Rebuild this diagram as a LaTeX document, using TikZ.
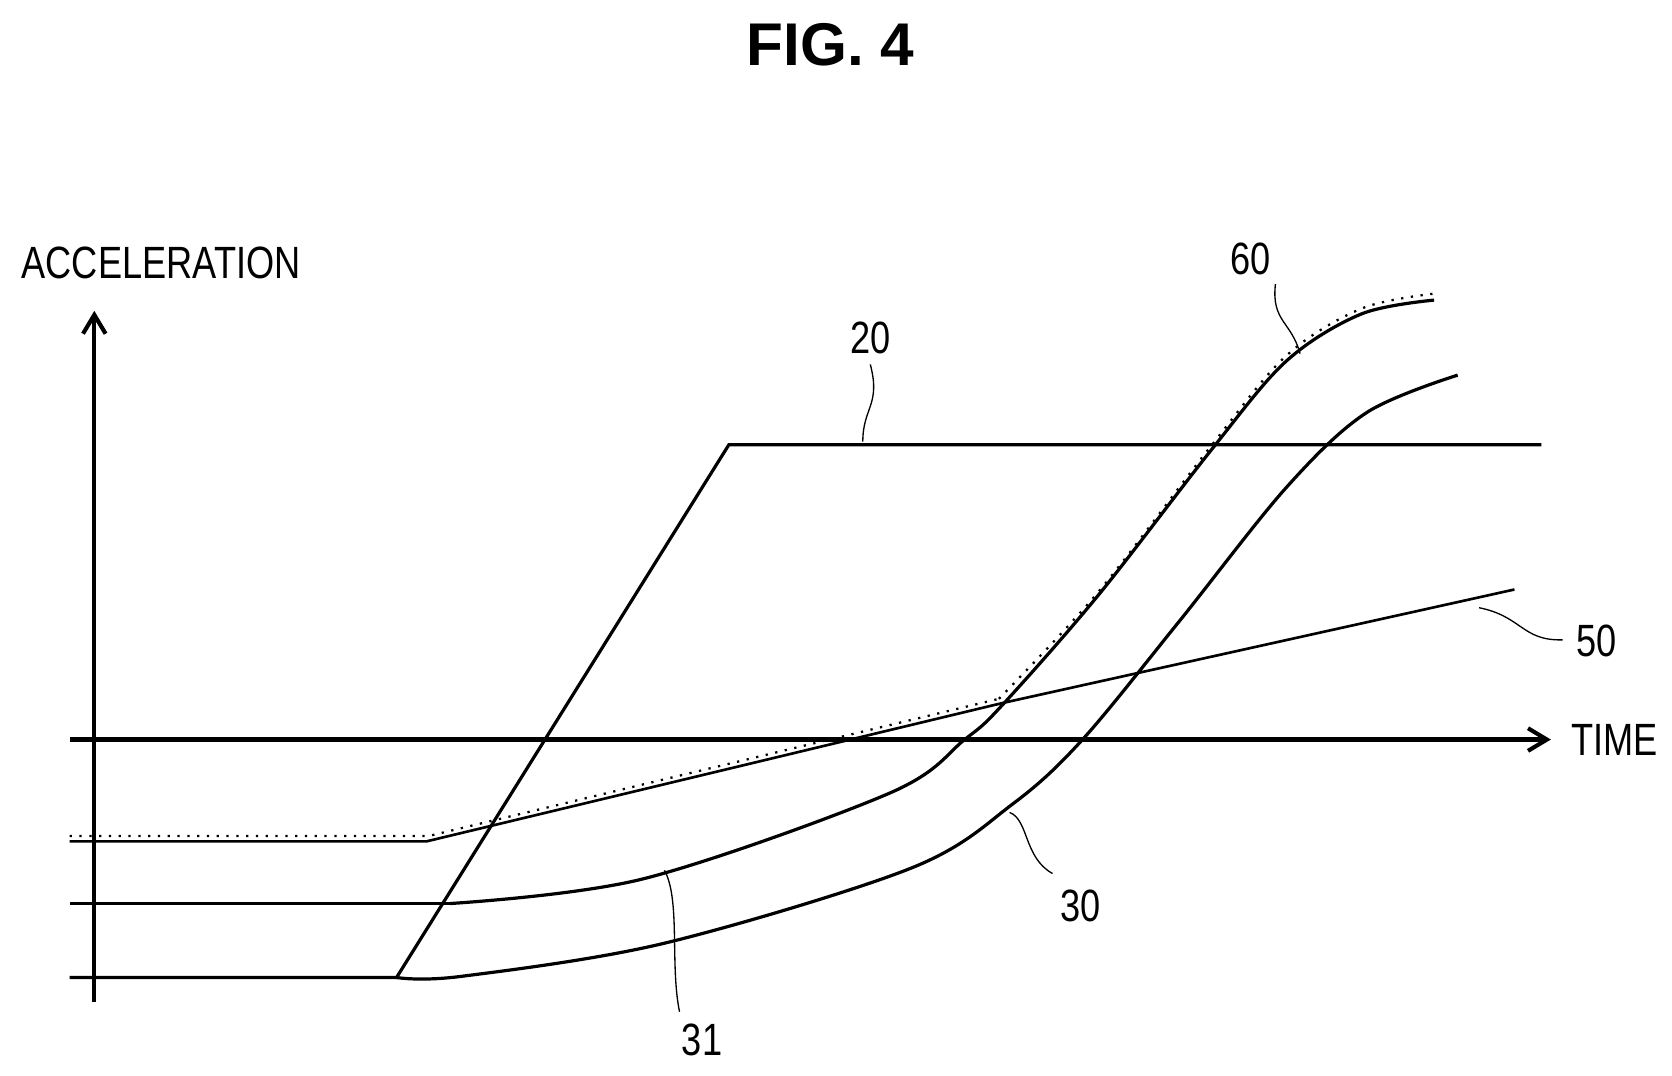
\documentclass[tikz,border=0pt]{standalone}
\usepackage{fontspec}
\setmainfont{Liberation Sans}
\newfontfamily\labfont[FakeStretch=0.8]{Liberation Sans}
\usetikzlibrary{arrows.meta}
\begin{document}
\begin{tikzpicture}[x=0.01cm,y=-0.01cm,
  curve/.style={line width=0.85pt},
  axis/.style={line width=1.1pt,-{Straight Barb[length=5pt,width=6pt]}},
  leader/.style={line width=0.35pt},
  lab/.style={font=\labfont\fontsize{12}{14}\selectfont,inner sep=1pt}]
\useasboundingbox (0,0) rectangle (1560,1003);
\node[font=\bfseries\fontsize{16}{18}\selectfont] (title) at (775,42) {FIG. 4};
\node[lab,anchor=west] (acc) at (16,245) {ACCELERATION};
\node[lab,anchor=west] (time) at (1462,690) {TIME};
% axes
\coordinate (yb) at (88,935); \coordinate (yt) at (88,290);
\coordinate (xl) at (65,690); \coordinate (xr) at (1447,690);
\draw[axis] (yb) -- (yt);
\draw[axis] (xl) -- (xr);
% 20
\draw[curve] (65,912) -- (370,912) -- (680,415) -- (1438,415);
% 30
\draw[curve] plot[smooth,tension=0.55] coordinates {(370,912) (430,911) (620,880) (850,810) (945,750) (1010,690) (1100,580) (1200,455) (1275,385) (1360,350)};
% 31
\draw[curve] (65,843) -- (420,843);
\draw[curve] plot[smooth,tension=0.55] coordinates {(420,843) (600,820) (830,740) (900,690) (935,658) (1025,555) (1130,420) (1200,337) (1270,293) (1338,280)};
% 50
\draw[line width=0.7pt] (65,785) -- (398,785) -- (935,656) -- (1413,550);
% 60 dotted
\draw[line width=0.6pt,dotted] (65,780) -- (400,780) -- (932,652);
\draw[line width=0.6pt,dotted] plot[smooth,tension=0.55] coordinates {(932,652) (1025,552) (1130,416) (1200,332) (1270,288) (1338,274)};
% labels
\node[lab] (l20) at (812,315) {20};
\node[lab] (l60) at (1167,242) {60};
\node[lab] (l50) at (1490,598) {50};
\node[lab] (l31) at (655,970) {31};
\node[lab] (l30) at (1008,845) {30};
\draw[leader] (805,412) .. controls (805,380) and (822,378) .. (812,340);
\draw[leader] (1213,330) .. controls (1205,300) and (1186,300) .. (1190,265);
\draw[leader] (1380,567) .. controls (1420,575) and (1420,598) .. (1458,597);
\draw[leader] (620,812) .. controls (635,840) and (625,900) .. (634,944);
\draw[leader] (942,758) .. controls (960,765) and (955,800) .. (982,815);
\end{tikzpicture}
\end{document}
